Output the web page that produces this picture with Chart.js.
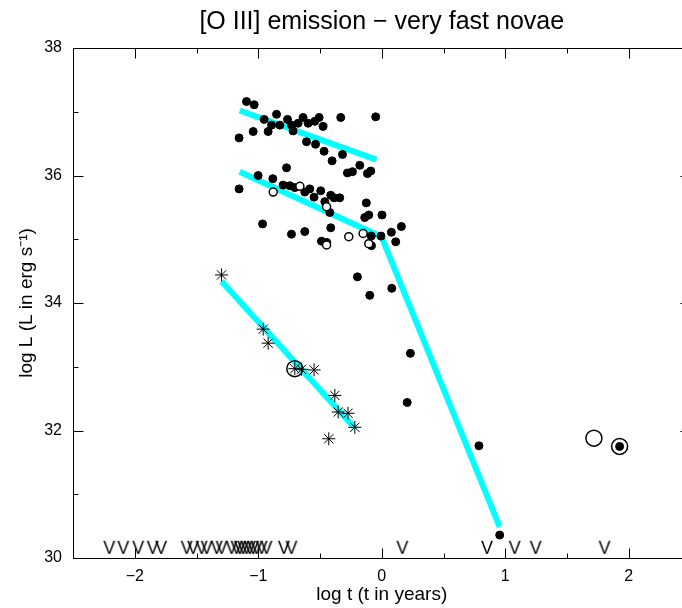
<!DOCTYPE html>
<html>
<head>
<meta charset="utf-8">
<title>[O III] emission − very fast novae</title>
<script src="https://cdn.jsdelivr.net/npm/chart.js@4"></script>
<style>
  html, body { margin:0; padding:0; overflow:hidden; background:#fff; }
  #wrap { width:700px; height:608px; }
</style>
</head>
<body>
<div id="wrap"><canvas id="novaChart" width="700" height="608"></canvas></div>
<script>
/* =====================================
   DATA  (log t in years, log L in erg/s)
===================================== */

// filled circles
const dotLogT = [
  -1.095, -1.033, -1.155, -1.041, -0.952, -0.852, -0.920, -0.892, -0.825, -0.763,
  -0.731, -0.718, -0.637, -0.677, -0.596, -0.542, -0.507, -0.475, -0.332, -0.049,
  -0.609, -0.536, -0.467, -0.402, -0.318, -0.278, -0.237, -0.178, -0.089, -0.116,
  -0.771,
  -1.001, -0.882, -1.155, -0.799, -0.744, -0.704, -0.623, -0.583, -0.548, -0.494,
  -0.461, -0.413, -0.386, -0.340, -0.421, -0.413, -0.623, -0.731, -0.965, -0.488,
  -0.445, -0.125, -0.138, -0.105, 0.002, -0.085, -0.006, 0.078, 0.159, 0.113,
  -0.083,
  -0.197, -0.097, 0.081, 0.232, 0.206, 0.787, 0.955
];
const dotLogL = [
  37.16, 37.11, 36.59, 36.69, 36.88, 36.96, 36.69, 36.79, 36.79, 36.88,
  36.79, 36.70, 36.91, 36.82, 36.82, 36.85, 36.91, 36.77, 36.91, 36.92,
  36.53, 36.49, 36.38, 36.23, 36.33, 36.04, 36.06, 36.16, 36.07, 36.03,
  36.12,
  36.00, 35.95, 35.79, 35.85, 35.84, 35.81, 35.74, 35.79, 35.66, 35.76,
  35.59, 35.69, 35.65, 35.65, 35.42, 35.18, 35.12, 35.08, 35.24, 34.97,
  34.95, 35.57, 35.34, 35.38, 35.38, 35.05, 35.05, 35.11, 35.20, 34.96,
  34.90,
  34.41, 34.12, 34.23, 33.21, 32.44, 31.76, 30.36
];

// open circles
const openLogT = [-0.879, -0.663, -0.447, -0.447, -0.267, -0.151, -0.105];
const openLogL = [35.74, 35.83, 35.51, 34.91, 35.04, 35.09, 34.93];

// asterisks
const starLogT = [-1.297, -0.960, -0.920, -0.704, -0.650, -0.548, -0.380, -0.353, -0.273, -0.218, -0.429];
const starLogL = [34.44, 33.59, 33.37, 32.97, 32.96, 32.95, 32.55, 32.29, 32.27, 32.05, 31.87];

// large rings, and the dot inside the last one
const ringLogT = [-0.704, 1.718, 1.926];
const ringLogL = [32.97, 31.88, 31.75];
const ringDotLogT = [1.926];
const ringDotLogL = [31.75];

// "V" marks along the bottom
const limitLogT = [
  -2.206, -2.093, -1.972, -1.855, -1.786, -1.580, -1.527, -1.459, -1.418, -1.337,
  -1.297, -1.216, -1.176, -1.149, -1.122, -1.095, -1.068, -1.041, -1.014, -0.973,
  -0.933, -0.793, -0.731, 0.167, 0.852, 1.076, 1.246, 1.804
];
const limitLogL = 30.16;

// cyan fit lines
const fitUpperT = [-1.150, -0.043];
const fitUpperL = [37.02, 36.25];
const fitMiddleT = [-1.150, -0.002, 0.955];
const fitMiddleL = [36.06, 35.04, 30.49];
const fitStarT = [-1.297, -0.218];
const fitStarL = [34.34, 32.04];

// axes
const xRange = [-2.5, 2.5];
const yRange = [30, 38];

/* =====================================
   HELPERS
===================================== */

const pts = (xs, ys) => xs.map((x, i) => ({ x: x, y: Array.isArray(ys) ? ys[i] : ys }));

const FONT = '"Liberation Sans", Arial, Helvetica, sans-serif';

// "V" glyph as a point style
const vMark = document.createElement("canvas");
vMark.width = 18;
vMark.height = 20;
const vc = vMark.getContext("2d");
vc.font = '18px ' + FONT;
vc.textAlign = "center";
vc.textBaseline = "middle";
vc.fillStyle = "#000";
vc.fillText("V", 9, 11);

// frame with inward ticks on all four sides
const frameTicks = {
  id: "frameTicks",
  afterDatasetsDraw(chart) {
    const { ctx, chartArea: a, scales: { x, y } } = chart;
    const L = Math.floor(a.left) + 0.5, R = Math.floor(a.right) + 0.5;
    const T = Math.floor(a.top) + 0.5, B = Math.floor(a.bottom) + 0.5;
    ctx.save();
    ctx.strokeStyle = "#000";
    ctx.lineWidth = 1;
    ctx.beginPath();
    ctx.moveTo(L, T); ctx.lineTo(R, T); ctx.lineTo(R, B); ctx.lineTo(L, B); ctx.closePath();
    x.ticks.forEach(t => {
      const px = Math.round(x.getPixelForValue(t.value)) + 0.5;
      const len = Number.isInteger(t.value) ? 10 : 5;
      ctx.moveTo(px, B); ctx.lineTo(px, B - len);
      ctx.moveTo(px, T); ctx.lineTo(px, T + len);
    });
    y.ticks.forEach(t => {
      const py = Math.round(y.getPixelForValue(t.value)) + 0.5;
      const len = t.value % 2 === 0 ? 10 : 5;
      ctx.moveTo(L, py); ctx.lineTo(L + len, py);
      ctx.moveTo(R, py); ctx.lineTo(R - len, py);
    });
    ctx.stroke();
    ctx.restore();
  }
};

const fitLine = (xs, ys) => ({
  data: pts(xs, ys),
  showLine: true,
  borderColor: "#00ffff",
  borderWidth: 6,
  pointRadius: 0,
  order: 6
});

/* =====================================
   CHART
===================================== */

new Chart(document.getElementById("novaChart"), {
  type: "scatter",
  data: {
    datasets: [
      fitLine(fitUpperT, fitUpperL),
      fitLine(fitMiddleT, fitMiddleL),
      fitLine(fitStarT, fitStarL),
      {
        data: pts(limitLogT, limitLogL),
        pointStyle: vMark,
        order: 5
      },
      {
        data: pts(dotLogT, dotLogL),
        pointRadius: 4,
        backgroundColor: "#000",
        borderColor: "#000",
        borderWidth: 1,
        order: 4
      },
      {
        data: pts(openLogT, openLogL),
        pointRadius: 4,
        backgroundColor: "#fff",
        borderColor: "#000",
        borderWidth: 1.5,
        order: 3
      },
      {
        data: pts(starLogT, starLogL),
        pointStyle: "star",
        pointRadius: 6.5,
        borderColor: "#000",
        borderWidth: 1,
        order: 2
      },
      {
        data: pts(ringLogT, ringLogL),
        pointRadius: 8,
        backgroundColor: "rgba(0,0,0,0)",
        borderColor: "#000",
        borderWidth: 1.5,
        order: 1
      },
      {
        data: pts(ringDotLogT, ringDotLogL),
        pointRadius: 4,
        backgroundColor: "#000",
        borderColor: "#000",
        borderWidth: 1,
        order: 0
      }
    ]
  },
  options: {
    responsive: false,
    animation: false,
    events: [],
    layout: { padding: { left: 0, right: 9, top: 0, bottom: 0 } },
    plugins: {
      legend: { display: false },
      tooltip: { enabled: false },
      title: {
        display: true,
        fullSize: false,
        text: "[O III] emission − very fast novae",
        color: "#000",
        font: { family: FONT, size: 25, weight: "normal" },
        padding: { top: 7, bottom: 11 }
      }
    },
    scales: {
      x: {
        type: "linear",
        min: xRange[0],
        max: xRange[1],
        afterFit: s => { s.height = 50; },
        grid: { display: false, drawTicks: false },
        border: { display: false },
        ticks: {
          stepSize: 0.5,
          autoSkip: false,
          maxRotation: 0,
          padding: 9,
          color: "#000",
          font: { family: FONT, size: 16 },
          callback: v => Number.isInteger(v) ? String(v).replace("-", "−") : ""
        },
        title: {
          display: true,
          text: "log t (t in years)",
          color: "#000",
          font: { family: FONT, size: 19 },
          padding: { top: 0, bottom: 2 }
        }
      },
      y: {
        type: "linear",
        min: yRange[0],
        max: yRange[1],
        afterFit: s => { s.width = 73; },
        grid: { display: false, drawTicks: false },
        border: { display: false },
        ticks: {
          stepSize: 1,
          autoSkip: false,
          padding: 11,
          color: "#000",
          font: { family: FONT, size: 16 },
          callback: v => v % 2 === 0 ? String(v) : ""
        },
        title: {
          display: true,
          text: "log L (L in erg s⁻¹)",
          color: "#000",
          font: { family: FONT, size: 19 },
          padding: { top: 15, bottom: 0 }
        }
      }
    }
  },
  plugins: [frameTicks]
});
</script>
</body>
</html>
